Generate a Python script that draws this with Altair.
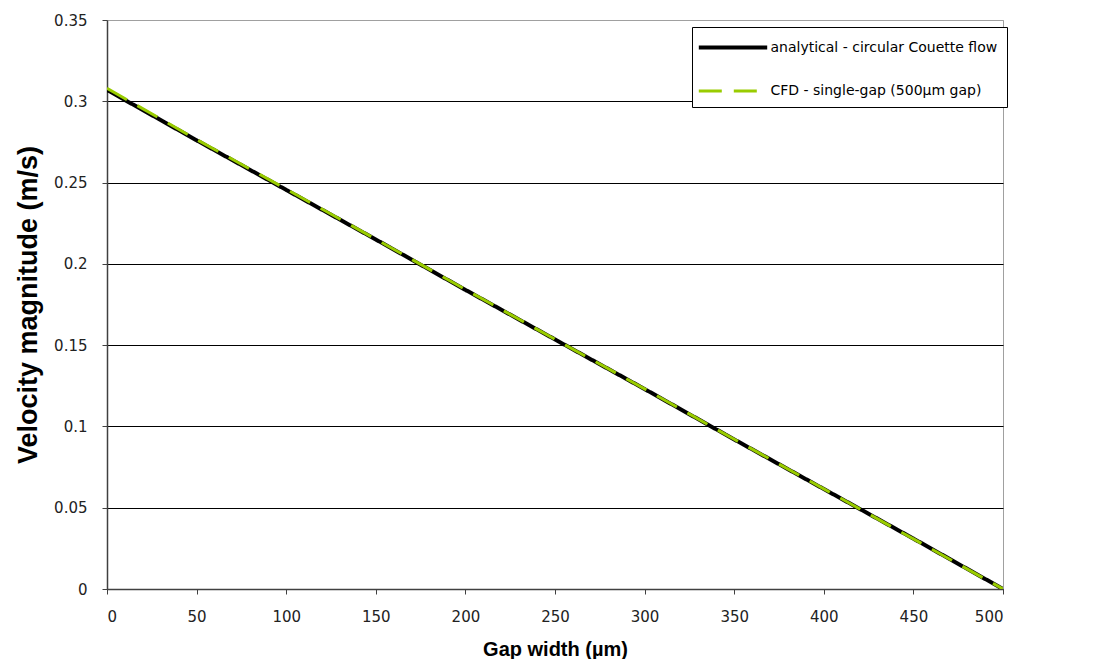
import altair as alt
import pandas as pd

gap = [0, 50, 100, 150, 200, 250, 300, 350, 400, 450, 500]
analytical = [0.307, 0.276, 0.2455, 0.215, 0.184, 0.1535, 0.123, 0.092, 0.0615, 0.031, 0.0]
cfd = [0.308, 0.2765, 0.246, 0.2152, 0.1842, 0.1536, 0.1231, 0.0921, 0.0616, 0.0308, 0.0]
series_names = ["analytical - circular Couette flow", "CFD - single-gap (500µm gap)"]
x_ticks = [0, 50, 100, 150, 200, 250, 300, 350, 400, 450, 500]
y_ticks = [0, 0.05, 0.1, 0.15, 0.2, 0.25, 0.3, 0.35]

rows = []
for g, v in zip(gap, analytical):
    rows.append({"gap": g, "vel": v, "series": series_names[0], "ord": 0})
for g, v in zip(gap, cfd):
    rows.append({"gap": g, "vel": v, "series": series_names[1], "ord": 1})
df = pd.DataFrame(rows)

FONT = "Liberation Sans"
TICKFONT = "DejaVu Sans"

legend_cfg = dict(title=None, orient="none", legendX=585, legendY=7,
                  symbolType="M-3.6,0H3.6", symbolSize=361, symbolStrokeWidth=4,
                  symbolOffset=20.5, labelOffset=26,
                  labelFont=TICKFONT, labelFontSize=14, labelColor="black",
                  rowPadding=24, padding=9, strokeColor="black",
                  fillColor="white", labelLimit=400)

chart = alt.Chart(df).mark_line(clip=True).encode(
    x=alt.X("gap:Q", scale=alt.Scale(domain=[0, 500], nice=False),
            axis=alt.Axis(title="Gap width (µm)", values=x_ticks,
                          grid=False, tickSize=5, labelPadding=15, titlePadding=15,
                          titleFontSize=20)),
    y=alt.Y("vel:Q", scale=alt.Scale(domain=[0, 0.35], nice=False),
            axis=alt.Axis(title="Velocity magnitude (m/s)", values=y_ticks,
                          labelExpr="toString(round(datum.value*100)/100)",
                          grid=True, tickSize=5, labelPadding=15, titlePadding=11,
                          titleFontSize=27,
                          gridColor={"condition": {"test": "datum.value > 0.34", "value": "#a0a0a0"}, "value": "black"})),
    color=alt.Color("series:N", scale=alt.Scale(domain=series_names, range=["black", "#99CC00"]),
                    legend=alt.Legend(**legend_cfg)),
    strokeDash=alt.StrokeDash("series:N", scale=alt.Scale(domain=series_names, range=[[1, 0], [23, 12]]),
                              legend=alt.Legend(**legend_cfg)),
    strokeWidth=alt.StrokeWidth("series:N", scale=alt.Scale(domain=series_names, range=[4, 3]), legend=None),
    order=alt.Order("ord:Q"),
).properties(
    width=896, height=569,
    autosize=alt.AutoSizeParams(type="none"),
    padding={"left": 99, "top": 12, "right": 90, "bottom": 70},
).configure_view(
    stroke="#a0a0a0", strokeWidth=1
).configure_axis(
    labelFont=TICKFONT, labelFontSize=15, labelColor="#222",
    titleFont=FONT, titleFontWeight="bold", titleColor="black",
    domainColor="#404040", tickColor="#404040", domainWidth=1.5, gridWidth=1
)

chart.save("out.html", embed_options={"renderer": "svg", "actions": False})
